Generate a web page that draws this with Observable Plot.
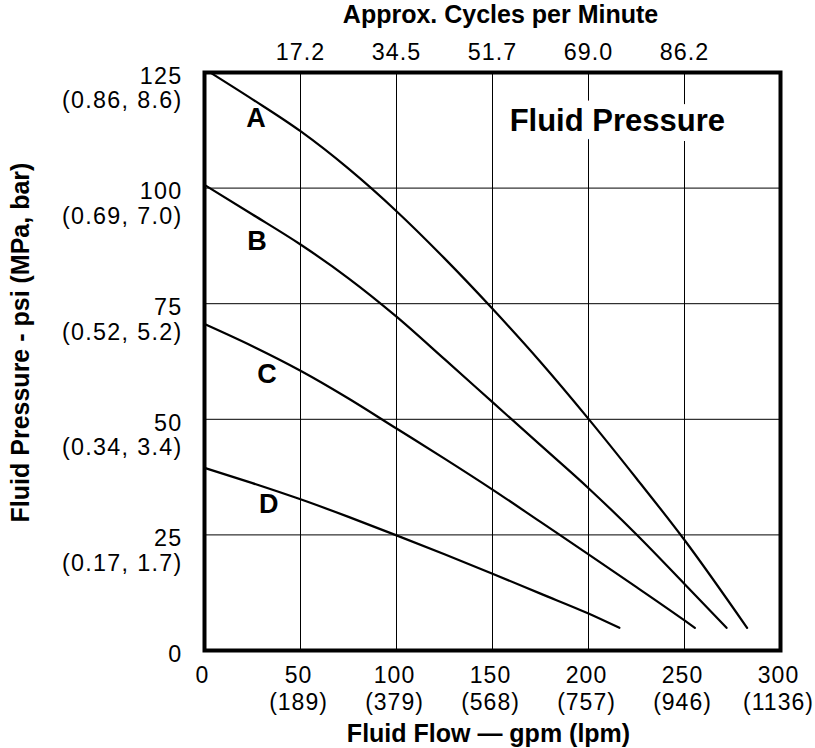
<!DOCTYPE html>
<html>
<head>
<meta charset="utf-8">
<script src="https://cdn.jsdelivr.net/npm/d3@7"></script>
<script src="https://cdn.jsdelivr.net/npm/@observablehq/plot@0.6"></script>
<style>
  html, body { margin: 0; padding: 0; background: #fff; }
  #chart svg { display: block; }
  #chart g[aria-label="x-axis tick label"] text { letter-spacing: 1.0px; }
  #chart g[aria-label="y-axis tick label"] text { letter-spacing: 1.3px; }
  #chart g[aria-label="axis title"] text { letter-spacing: 0.8px; }
  #chart g[aria-label="chart title"] text { letter-spacing: 0.4px; }
</style>
</head>
<body>
<div id="chart"></div>
<script>
// ---- Data ----
// Flow in gpm, pressure in psi
const curveA_gpm = [3, 25, 50, 75, 100, 125, 150, 175, 200, 225, 250, 282.6];
const curveA_psi = [125, 119.2, 112.3, 104.2, 95.0, 84.8, 73.9, 62.4, 50.1, 37.2, 23.9, 4.9];

const curveB_gpm = [0, 25, 50, 75, 100, 125, 150, 175, 200, 225, 250, 271.9];
const curveB_psi = [100.7, 94.3, 87.8, 80.5, 72.2, 63.0, 53.7, 44.4, 35.1, 25.1, 14.4, 4.9];

const curveC_gpm = [0, 25, 50, 75, 100, 125, 150, 175, 200, 225, 250, 255.4];
const curveC_psi = [70.6, 65.8, 60.5, 54.5, 48, 41.5, 34.8, 27.8, 20.8, 13.7, 6.5, 4.9];

const curveD_gpm = [0, 25, 50, 75, 100, 125, 150, 175, 200, 216.1];
const curveD_psi = [39.5, 36.2, 32.7, 28.9, 24.9, 20.8, 16.6, 12.3, 8.0, 4.9];

const curveNames = ["A", "B", "C", "D"];
const curveLabelGpm = [26.8, 27.3, 32.6, 33.4];
const curveLabelPsi = [115, 88.5, 59.8, 31.7];

// Bottom axis: gpm ticks with lpm equivalents
const gpmTicks = [0, 50, 100, 150, 200, 250, 300];
const lpmLabels = ["", "(189)", "(379)", "(568)", "(757)", "(946)", "(1136)"];

// Top axis: approx. cycles per minute at gpm grid lines
const cycleTicks = [50, 100, 150, 200, 250];
const cycleLabels = ["17.2", "34.5", "51.7", "69.0", "86.2"];

// Left axis: psi ticks with (MPa, bar) equivalents
const psiTicks = [0, 25, 50, 75, 100, 125];
const mpaBarLabels = ["", "(0.17, 1.7)", "(0.34, 3.4)", "(0.52, 5.2)", "(0.69, 7.0)", "(0.86, 8.6)"];

const gridGpm = [50, 100, 150, 200, 250];
const gridPsi = [25, 50, 75, 100];

const chartTitle = "Fluid Pressure";
const titleGpm = 215;
const titlePsi = 114.4;

const topTitle = "Approx. Cycles per Minute";
const xTitle = "Fluid Flow — gpm (lpm)";
const yTitle = "Fluid Pressure - psi (MPa, bar)";

// ---- Build table ----
const curves = [
  [curveA_gpm, curveA_psi],
  [curveB_gpm, curveB_psi],
  [curveC_gpm, curveC_psi],
  [curveD_gpm, curveD_psi]
];
const rows = [];
curves.forEach(([xs, ys], k) => xs.forEach((x, i) => rows.push({curve: curveNames[k], gpm: x, psi: ys[i]})));
const labels = curveNames.map((n, i) => ({name: n, gpm: curveLabelGpm[i], psi: curveLabelPsi[i]}));

const FONT = "'Liberation Sans', Arial, Helvetica, sans-serif";

const plot = Plot.plot({
  width: 815,
  height: 748,
  marginTop: 72,
  marginBottom: 98,
  marginLeft: 204,
  marginRight: 35,
  style: {fontFamily: FONT, color: "black", background: "white"},
  x: {domain: [0, 300], axis: null},
  y: {domain: [0, 125], axis: null},
  marks: [
    Plot.gridX(gridGpm, {stroke: "black", strokeOpacity: 1, strokeWidth: 1}),
    Plot.gridY(gridPsi, {stroke: "black", strokeOpacity: 1, strokeWidth: 1}),
    Plot.text([chartTitle], {
      x: () => titleGpm, y: () => titlePsi,
      fontSize: 31, fontWeight: "bold", fill: "black",
      stroke: "white", strokeWidth: 20, lineAnchor: "middle",
      ariaLabel: "chart title"
    }),
    Plot.line(rows, {x: "gpm", y: "psi", z: "curve", curve: "monotone-x", stroke: "black", strokeWidth: 2.2}),
    Plot.text(labels, {x: "gpm", y: "psi", text: "name", fontSize: 27, fontWeight: "bold", fill: "black", lineAnchor: "middle"}),
    Plot.frame({stroke: "black", strokeWidth: 4}),
    Plot.axisX(gpmTicks, {
      anchor: "bottom", tickSize: 0, tickPadding: 14, fontSize: 23, lineHeight: 1.15, dx: -2,
      tickFormat: (d) => { const i = gpmTicks.indexOf(d); return String(d) + (lpmLabels[i] ? "\n" + lpmLabels[i] : ""); },
      label: null
    }),
    Plot.axisX(cycleTicks, {
      anchor: "top", tickSize: 0, tickPadding: 13, fontSize: 23.3,
      tickFormat: (d) => cycleLabels[cycleTicks.indexOf(d)],
      label: null
    }),
    Plot.axisY(psiTicks, {
      anchor: "left", tickSize: 0, tickPadding: 22, fontSize: 23.3, lineHeight: 1.05,
      lineAnchor: "top", dy: -6,
      tickFormat: (d) => { const i = psiTicks.indexOf(d); return String(d) + (mpaBarLabels[i] ? "\n" + mpaBarLabels[i] : ""); },
      label: null
    }),
    Plot.text([topTitle], {frameAnchor: "top", dy: -58, dx: 8, fontSize: 25, fontWeight: "bold", textAnchor: "middle", lineAnchor: "middle", ariaLabel: "axis title"}),
    Plot.text([xTitle], {frameAnchor: "bottom", dy: 83, dx: -4, fontSize: 25, fontWeight: "bold", textAnchor: "middle", lineAnchor: "middle", ariaLabel: "axis title"}),
    Plot.text([yTitle], {frameAnchor: "left", rotate: -90, dx: -184, dy: -19, fontSize: 25, fontWeight: "bold", textAnchor: "middle", lineAnchor: "middle", ariaLabel: "axis title"})
  ]
});

document.getElementById("chart").appendChild(plot);
</script>
</body>
</html>
